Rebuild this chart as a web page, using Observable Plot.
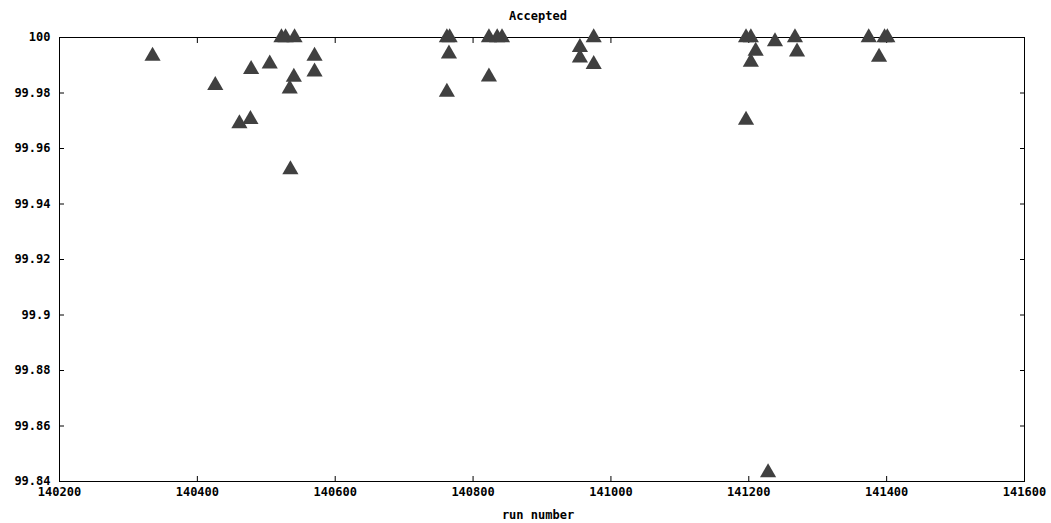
<!DOCTYPE html>
<html>
<head>
<meta charset="utf-8">
<script src="https://cdn.jsdelivr.net/npm/d3@7"></script>
<script src="https://cdn.jsdelivr.net/npm/@observablehq/plot@0.6"></script>
<style>
  html, body { margin: 0; padding: 0; background: #fff; }
</style>
</head>
<body>
<div id="chart"></div>
<script>
const title = "Accepted";
const xLabel = "run number";
const runNumber = [
  140335, 140426, 140461, 140477, 140478, 140505, 140522, 140528, 140541, 140534,
  140540, 140535, 140570, 140570, 140762, 140766, 140765, 140762, 140823, 140823,
  140835, 140842, 140955, 140955, 140975, 140975, 141196, 141203, 141210, 141203,
  141238, 141267, 141270, 141196, 141374, 141397, 141401, 141389, 141228
];
const accepted = [
  99.9933, 99.9828, 99.9690, 99.9705, 99.9885, 99.9905, 100, 100, 100, 99.9815,
  99.9857, 99.9524, 99.9933, 99.9876, 100, 100, 99.9941, 99.9803, 99.9858, 100,
  100, 100, 99.9965, 99.9927, 100, 99.9903, 100, 100, 99.9951, 99.9911,
  99.9985, 100, 99.9948, 99.9702, 100, 100, 100, 99.9929, 99.8432
];
const xTicks = [140200, 140400, 140600, 140800, 141000, 141200, 141400, 141600];
const xTickLabels = ["140200", "140400", "140600", "140800", "141000", "141200", "141400", "141600"];
const yTicks = [99.84, 99.86, 99.88, 99.9, 99.92, 99.94, 99.96, 99.98, 100];
const yTickLabels = ["99.84", "99.86", "99.88", "99.9", "99.92", "99.94", "99.96", "99.98", "100"];

const data = runNumber.map((r, i) => ({run: r, value: accepted[i]}));
const xl = d => xTickLabels[xTicks.indexOf(d)];
const yl = d => yTickLabels[yTicks.indexOf(d)];

const chart = Plot.plot({
  width: 1051,
  height: 523,
  marginLeft: 59,
  marginRight: 27,
  marginTop: 37,
  marginBottom: 42,
  style: {fontFamily: "'DejaVu Sans Mono', monospace", fontWeight: "bold", fontSize: "12px", color: "#000", background: "#fff"},
  x: {domain: [140200, 141600]},
  y: {domain: [99.84, 100]},
  marks: [
    Plot.frame({stroke: "#000", strokeWidth: 1}),
    Plot.axisX(xTicks, {anchor: "bottom", tickSize: 0, tickPadding: 6, tickFormat: xl, label: null}),
    Plot.axisX(xTicks, {anchor: "bottom", tickSize: -5, text: null, label: null}),
    Plot.axisX(xTicks, {anchor: "top", tickSize: -5, text: null, label: null}),
    Plot.axisY(yTicks, {anchor: "left", tickSize: 0, tickPadding: 9, tickFormat: yl, label: null}),
    Plot.axisY(yTicks, {anchor: "left", tickSize: -5, text: null, label: null}),
    Plot.axisY(yTicks, {anchor: "right", tickSize: -5, text: null, label: null}),
    Plot.dot(data, {x: "run", y: "value", symbol: "triangle", r: 6, fill: "#404040", stroke: "none"}),
    Plot.text([title], {frameAnchor: "top", lineAnchor: "middle", dy: -21, dx: -4, text: d => d}),
    Plot.text([xLabel], {frameAnchor: "bottom", lineAnchor: "middle", dy: 34, dx: -4, text: d => d})
  ]
});
document.getElementById("chart").appendChild(chart);
</script>
</body>
</html>
